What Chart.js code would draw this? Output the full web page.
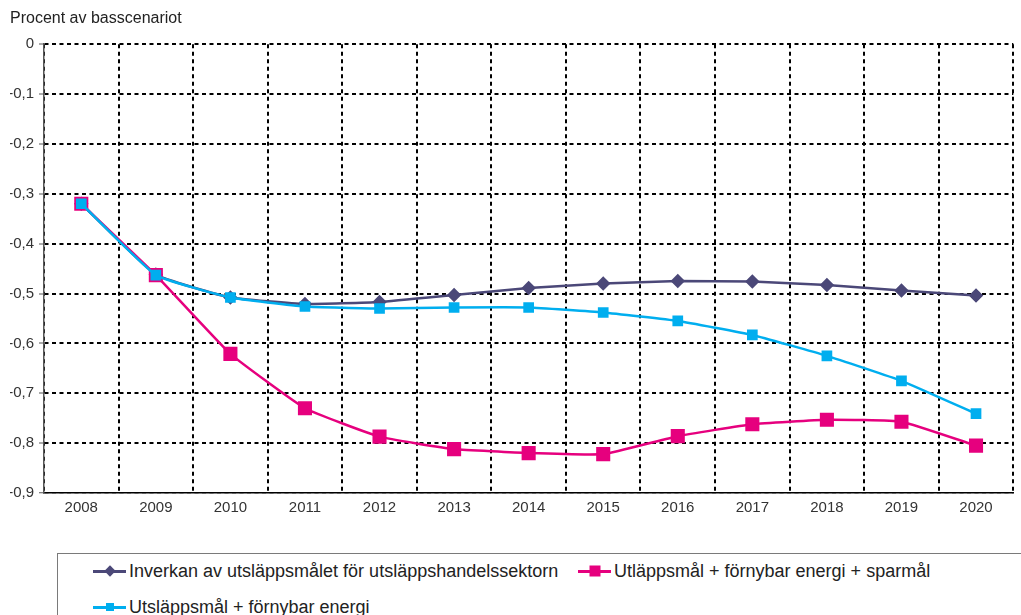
<!DOCTYPE html>
<html>
<head>
<meta charset="utf-8">
<script src="https://cdn.jsdelivr.net/npm/chart.js@4"></script>
<style>
  html, body { margin: 0; padding: 0; background: #fff; overflow: hidden; }
  body { width: 1021px; height: 615px; position: relative; font-family: "Liberation Sans", Arial, sans-serif; }
  #wrap { position: absolute; left: 0; top: 0; width: 1024px; height: 530px; }
  #legend { position: absolute; left: 57px; top: 553px; width: 1000px; height: 90px;
            border: 1.5px solid #7a7a7a; box-sizing: border-box; }
  .item { position: absolute; font-size: 18px; color: #222; white-space: nowrap; line-height: 22px; }
  .mk { display: inline-block; position: relative; width: 33px; height: 3px; vertical-align: middle; margin-right: 3px; top: -1px; }
  .mk i { position: absolute; left: 50%; top: 50%; }
</style>
</head>
<body>
<div id="wrap"><canvas id="chart"></canvas></div>
<div id="legend"></div>

<script>
// Data
const years = ['2008','2009','2010','2011','2012','2013','2014','2015','2016','2017','2018','2019','2020'];
const yTickLabels = ['0','-0,1','-0,2','-0,3','-0,4','-0,5','-0,6','-0,7','-0,8','-0,9'];

const inverkan = [-0.32, -0.462, -0.508, -0.521, -0.517, -0.503, -0.489, -0.480, -0.475, -0.476, -0.483, -0.494, -0.504];
const sparmal  = [-0.32, -0.463, -0.621, -0.730, -0.787, -0.812, -0.820, -0.822, -0.786, -0.762, -0.753, -0.757, -0.805];
const fornybar = [-0.32, -0.463, -0.508, -0.526, -0.530, -0.528, -0.528, -0.538, -0.555, -0.583, -0.625, -0.675, -0.741];

const names = [
  'Inverkan av utsläppsmålet för utsläppshandelssektorn',
  'Utläppsmål + förnybar energi + sparmål',
  'Utsläppsmål + förnybar energi'
];
const colors = ['#4b4878', '#e6007e', '#00aeef'];

// Chart
new Chart(document.getElementById('chart'), {
  type: 'line',
  data: {
    labels: years,
    datasets: [
      { label: names[0], data: inverkan, borderColor: colors[0], backgroundColor: colors[0],
        borderWidth: 2.5, pointStyle: 'rectRot', pointRadius: 5.5, order: 3 },
      { label: names[1], data: sparmal, borderColor: colors[1], backgroundColor: colors[1],
        borderWidth: 2.5, pointStyle: 'rect', pointRadius: 8.2, order: 2 },
      { label: names[2], data: fornybar, borderColor: colors[2], backgroundColor: colors[2],
        borderWidth: 2.5, pointStyle: 'rect', pointRadius: 5.8, order: 1 }
    ]
  },
  options: {
    responsive: true,
    maintainAspectRatio: false,
    animation: false,
    layout: { padding: { left: 10, right: 0, top: 0, bottom: 0 } },
    elements: { line: { tension: 0.12 }, point: { borderWidth: 0 } },
    plugins: {
      legend: { display: false },
      tooltip: { enabled: false },
      title: {
        display: true, text: 'Procent av basscenariot', align: 'start',
        color: '#222', font: { family: '"Liberation Sans", Arial', size: 16, weight: 'normal' },
        padding: { top: 9, bottom: 16 }
      }
    },
    scales: {
      x: {
        offset: true,
        grid: { offset: true, color: '#000', lineWidth: 2, drawTicks: false },
        border: { display: true, color: '#000', width: 1.5, dash: [4, 3.5] },
        ticks: { color: '#333', padding: 6, font: { family: '"Liberation Sans", Arial', size: 15 } },
        afterFit: s => { s.height = 37; }
      },
      y: {
        min: -0.9, max: 0,
        grid: {
          color: ctx => (ctx.tick && ctx.tick.value <= -0.899 ? 'rgba(120,120,120,0.9)' : '#000'),
          lineWidth: ctx => (ctx.tick && ctx.tick.value <= -0.899 ? 1.5 : 2),
          tickLength: 5, tickColor: '#555', tickWidth: 1
        },
        border: { display: true, color: '#555', width: 1.5, dash: [4, 3.5] },
        ticks: {
          stepSize: 0.1, color: '#333', padding: 5,
          font: { family: '"Liberation Sans", Arial', size: 15 },
          callback: v => yTickLabels[Math.round(-v * 10)]
        },
        afterFit: s => { s.width = 34; }
      }
    }
  }
});

// Legend (HTML)
const legend = document.getElementById('legend');
const legendPos = [[35, 6], [520, 6], [35, 42]];
names.forEach((n, i) => {
  const d = document.createElement('div');
  d.className = 'item';
  d.style.left = legendPos[i][0] + 'px';
  d.style.top = legendPos[i][1] + 'px';
  const mk = document.createElement('span');
  mk.className = 'mk';
  mk.style.background = colors[i];
  const m = document.createElement('i');
  const sz = i === 0 ? 8 : (i === 1 ? 11 : 8);
  m.style.width = sz + 'px';
  m.style.height = sz + 'px';
  m.style.background = colors[i];
  m.style.transform = 'translate(-50%,-50%)' + (i === 0 ? ' rotate(45deg)' : '');
  mk.appendChild(m);
  d.appendChild(mk);
  d.appendChild(document.createTextNode(n));
  legend.appendChild(d);
});
</script>
</body>
</html>
